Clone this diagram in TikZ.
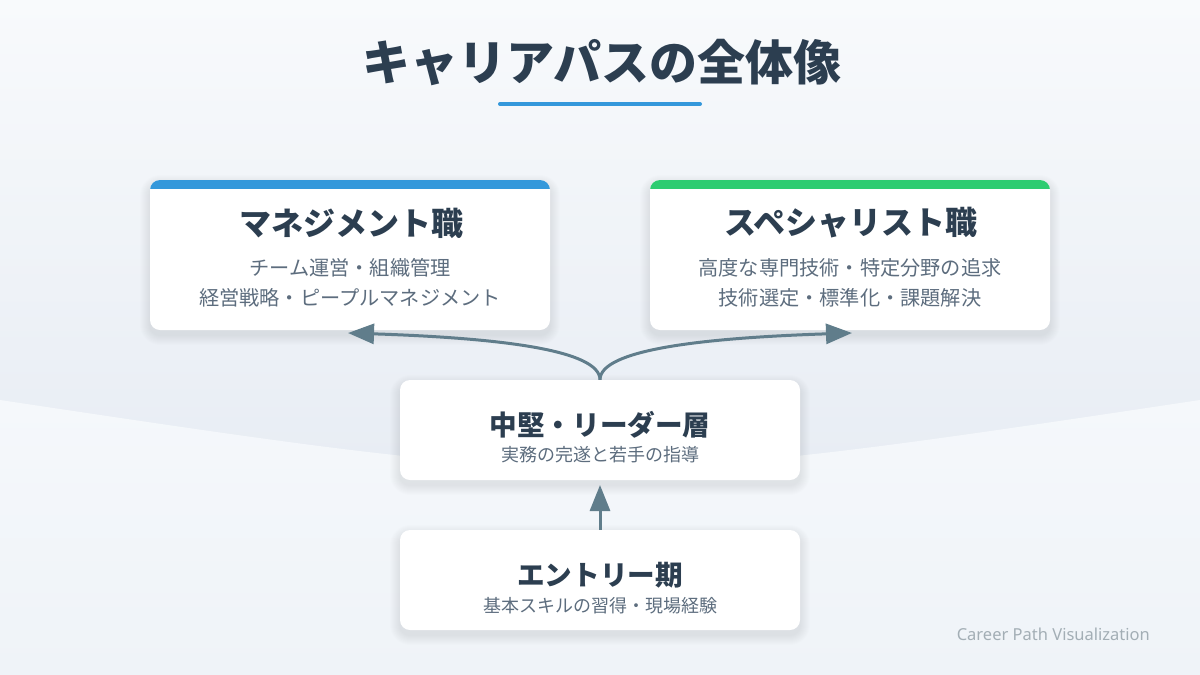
\documentclass[tikz,border=0pt]{standalone}
\usepackage{fontspec}
\setmainfont{Noto Sans CJK JP}
\newfontfamily\latinfont{Noto Sans}
\usetikzlibrary{arrows.meta}
\definecolor{bgtop}{HTML}{F8FAFC}
\definecolor{bgmid}{HTML}{E8EDF4}
\definecolor{bglow}{HTML}{F5F8FB}
\definecolor{bgbot}{HTML}{EFF3F8}
\definecolor{ink}{HTML}{2C3E50}
\definecolor{subink}{HTML}{5D6D7E}
\definecolor{arrowc}{HTML}{607D8B}
\definecolor{mblue}{HTML}{3498DB}
\definecolor{sgreen}{HTML}{2ECC71}
\definecolor{footc}{HTML}{A3AEB5}
\begin{document}
\begin{tikzpicture}[x=1pt,y=-1pt,
  card/.style={fill=white, rounded corners=10pt, inner sep=0pt, draw=none},
  bigcard/.style={card, minimum width=400pt, minimum height=150pt},
  smallcard/.style={card, minimum width=400pt, minimum height=100pt},
  cardtitle/.style={font=\fontsize{32}{38}\selectfont\bfseries, text=ink, inner sep=0pt},
  midtitle/.style={font=\fontsize{27.6}{32}\selectfont\bfseries, text=ink, inner sep=0pt},
  subtext/.style={font=\fontsize{20.2}{24}\selectfont, text=subink, inner sep=0pt},
  smallsub/.style={font=\fontsize{18}{21}\selectfont, text=subink, inner sep=0pt},
  flow/.style={draw=arrowc, line width=3pt, -{Triangle[length=26pt,width=20pt]}}
]
\useasboundingbox (0,0) rectangle (1200,675);
% background
\shade[top color=bgtop, bottom color=bgmid] (0,0) rectangle (1200,460);
\shade[top color=bglow, bottom color=bgbot] (0,400) .. controls (600,490) .. (1200,400) -- (1200,675) -- (0,675) -- cycle;
% shadows
\foreach \cx/\cy/\w/\h in {350/255/400/150, 850/255/400/150, 600/430/400/100, 600/580/400/100}{
  \foreach \i in {1,...,10}{
    \pgfmathsetmacro\rr{10+\i}
    \fill[black, opacity=0.007, rounded corners=\rr pt]
      (\cx-\w/2-\i, \cy-\h/2-\i+5) rectangle (\cx+\w/2+\i, \cy+\h/2+\i+5);
  }
}
% title
\node[font=\fontsize{48}{54}\selectfont\bfseries, text=ink, inner sep=0pt] (title) at (602,63) {キャリアパスの全体像};
\coordinate (ulA) at (500,104);
\coordinate (ulB) at (700,104);
\draw[mblue, line width=4pt, line cap=round] (ulA) -- (ulB);
% cards
\node[bigcard] (mgmt) at (350,255) {};
\node[bigcard] (spec) at (850,255) {};
\node[smallcard] (mid) at (600,430) {};
\node[smallcard] (entry) at (600,580) {};
% top bars
\begin{scope}
  \clip[rounded corners=10pt] (150,180) rectangle (550,330);
  \fill[mblue] (150,180) rectangle (550,189);
\end{scope}
\begin{scope}
  \clip[rounded corners=10pt] (650,180) rectangle (1050,330);
  \fill[sgreen] (650,180) rectangle (1050,189);
\end{scope}
% card texts
\node[cardtitle] (mgmtT) at (351,223) {マネジメント職};
\node[subtext] (mgmtA) at (350,268) {チーム運営・組織管理};
\node[subtext] (mgmtB) at (350,298) {経営戦略・ピープルマネジメント};
\node[cardtitle] (specT) at (851,223) {スペシャリスト職};
\node[subtext] (specA) at (850,268) {高度な専門技術・特定分野の追求};
\node[subtext] (specB) at (850,298) {技術選定・標準化・課題解決};
\node[midtitle] (midT) at (600,425) {中堅・リーダー層};
\node[smallsub] (midS) at (600,455) {実務の完遂と若手の指導};
\node[midtitle] (entryT) at (600,575) {エントリー期};
\node[smallsub] (entryS) at (600,606) {基本スキルの習得・現場経験};
% arrows
\coordinate (ltip) at (348,333);
\coordinate (rtip) at (852,333);
\coordinate (btip) at (600,485);
\draw[flow] (mid.north) .. controls (600,350) and (500,338) .. (ltip);
\draw[flow] (mid.north) .. controls (600,350) and (700,338) .. (rtip);
\draw[flow] (entry.north) -- (btip);
% footer
\node[font=\latinfont\fontsize{16.5}{20}\selectfont, text=footc, anchor=east, inner sep=0pt] (foot) at (1150,634) {Career Path Visualization};
\end{tikzpicture}
\end{document}
